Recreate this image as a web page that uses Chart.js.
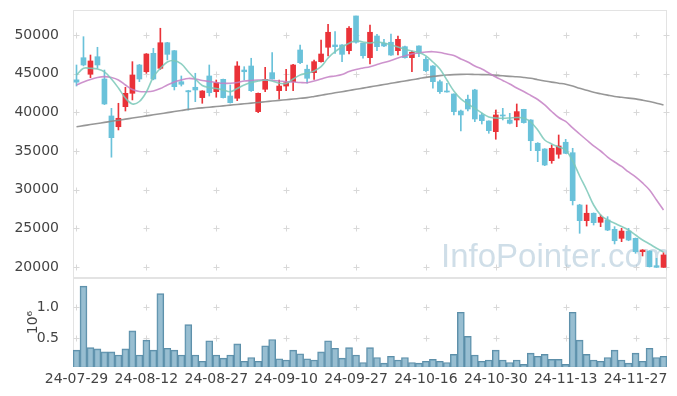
<!DOCTYPE html>
<html>
<head>
<meta charset="utf-8">
<script src="https://cdn.jsdelivr.net/npm/chart.js@4.4.1/dist/chart.umd.min.js"></script>
<style>
    body { margin: 0; background: #fff; }
    #wrap { position: relative; width: 677px; height: 396px; }
    #priceChart { position: absolute; left: 0; top: 0; }
    #volumeChart { position: absolute; left: 0; top: 278px; }
</style>
</head>
<body>
<div id="wrap">
    <canvas id="priceChart" width="677" height="279"></canvas>
    <canvas id="volumeChart" width="677" height="118"></canvas>
</div>
<script>
// 거래일 (24-07-29 ~ 24-12-03)
const dates = [
    '24-07-29','24-07-30','24-07-31','24-08-01','24-08-02','24-08-05','24-08-06','24-08-07','24-08-08','24-08-09',
    '24-08-12','24-08-13','24-08-14','24-08-16','24-08-19','24-08-20','24-08-21','24-08-22','24-08-23','24-08-26',
    '24-08-27','24-08-28','24-08-29','24-08-30','24-09-02','24-09-03','24-09-04','24-09-05','24-09-06','24-09-09',
    '24-09-10','24-09-11','24-09-12','24-09-13','24-09-19','24-09-20','24-09-23','24-09-24','24-09-25','24-09-26',
    '24-09-27','24-09-30','24-10-02','24-10-04','24-10-07','24-10-08','24-10-10','24-10-11','24-10-14','24-10-15',
    '24-10-16','24-10-17','24-10-18','24-10-21','24-10-22','24-10-23','24-10-24','24-10-25','24-10-28','24-10-29',
    '24-10-30','24-10-31','24-11-01','24-11-04','24-11-05','24-11-06','24-11-07','24-11-08','24-11-11','24-11-12',
    '24-11-13','24-11-14','24-11-15','24-11-18','24-11-19','24-11-20','24-11-21','24-11-22','24-11-25','24-11-26',
    '24-11-27','24-11-28','24-11-29','24-12-02','24-12-03'
];

const opens = [
    44200,47060,44920,47190,44310,39530,38140,40730,42460,46120,
    45250,47630,45690,49000,47970,43960,42800,43240,41900,44700,
    42670,44270,42110,41820,45470,45990,40090,42980,45130,42800,
    43400,43960,48060,45570,45130,46550,48410,48710,48710,47970,
    52460,48930,47070,49870,48930,49060,47970,48490,47070,48580,
    46860,45990,43960,42760,42370,40170,41690,42890,39660,38880,
    37500,39660,39010,39010,40390,39010,36000,35260,33750,34580,
    36130,34780,28020,25990,26950,25780,26080,24870,23710,24650,
    23710,21980,22070,20170,19960
];
const highs = [
    46120,49780,47410,48410,45470,40520,41170,43240,46550,46200,
    47600,48280,50870,49050,48000,44700,42850,45050,42800,46120,
    44180,44300,43540,46550,45900,46990,42500,45820,47710,44180,
    45570,46200,48710,46120,46770,49350,51380,50430,48750,51080,
    52460,48950,51290,50090,49440,50130,49870,48550,47930,48600,
    47190,46050,44180,43760,42400,40300,42240,42980,39870,38900,
    40300,40520,39870,41080,40400,39050,36080,35300,35780,37070,
    36510,35350,28110,28020,27000,26730,26510,25220,25000,25000,
    23750,22250,22100,21130,21850
];
const lows = [
    43400,46000,44480,45690,41000,34200,37720,40170,41600,43960,
    45050,44200,45560,46770,42890,43400,40300,41380,41170,42110,
    41950,41850,41200,41510,44180,42700,39960,42670,44300,41690,
    42800,42800,46300,43760,44270,46500,47290,47630,46550,47540,
    48930,46990,46250,47970,48490,47350,47410,46990,45250,47190,
    45250,43110,42460,42600,39660,37590,40170,38790,38490,37290,
    36520,39010,38500,38140,38600,35040,33620,33100,33410,34060,
    34650,28020,24360,25300,25430,25220,24700,22980,23280,23400,
    21770,21430,20000,19950,19950
];
const closes = [
    43900,46120,46640,46120,41080,36720,39230,42460,44830,44310,
    47540,44310,49000,47500,43320,43630,42650,42890,42760,42540,
    43830,41900,41250,45990,45250,42800,42460,44270,44310,43400,
    43830,46120,46420,44400,46550,47540,50350,48490,47500,50870,
    49060,47320,50350,48490,48580,47410,49440,47070,47760,47760,
    45380,43960,42670,42630,40090,39660,40430,39140,38920,37630,
    39660,39530,38580,40090,38670,36330,35040,33190,35350,35650,
    34700,28580,25990,26950,25730,26430,24780,23400,24650,23490,
    21980,22200,20040,19960,21560
];

// 거래량 (백만 주)
const volumes = [
    0.31,1.34,0.35,0.33,0.28,0.28,0.23,0.33,0.62,0.23,
    0.47,0.31,1.22,0.34,0.31,0.23,0.72,0.23,0.13,0.46,
    0.23,0.18,0.23,0.41,0.13,0.19,0.13,0.38,0.48,0.17,
    0.15,0.31,0.25,0.17,0.15,0.28,0.46,0.34,0.18,0.35,
    0.23,0.11,0.35,0.19,0.10,0.21,0.15,0.19,0.11,0.10,
    0.13,0.16,0.13,0.11,0.24,0.92,0.53,0.23,0.13,0.15,
    0.31,0.15,0.11,0.15,0.08,0.26,0.21,0.24,0.16,0.16,
    0.08,0.92,0.47,0.24,0.15,0.13,0.19,0.31,0.15,0.10,
    0.26,0.13,0.34,0.19,0.21
];

// 이동평균선
const ma5 = [
    44830,45690,45690,45600,45220,44310,43150,41850,41080,41400,
    42630,44570,45690,46510,46680,46250,45250,44310,43470,43210,
    43080,42890,42670,43080,43530,43860,44050,44180,44050,43750,
    43730,44310,44830,45050,45350,45900,47030,47840,48450,48930,
    49260,49090,48960,49090,48960,48710,48450,48150,47930,47740,
    47290,46510,45600,44180,42760,41730,41080,40520,39910,39400,
    39270,39230,39270,39330,39270,38750,37720,36420,35910,35520,
    35130,33710,31770,29960,28020,26730,26080,25650,25240,24780,
    24140,23490,22980,22420,21940
];
const ma20 = [
    43535,43920,44250,44500,44610,44500,44180,43535,42950,42700,
    42670,42760,43080,43535,43920,44180,44380,44310,44120,43990,
    43860,43755,43755,43860,44050,44120,44180,44180,44120,44050,
    43960,43920,43860,43830,44050,44310,44570,44700,44890,45280,
    45540,45730,45900,46190,46440,46700,47030,47290,47540,47670,
    47800,47840,47740,47540,47350,46900,46510,45990,45600,45090,
    44570,44120,43660,43150,42690,42180,41660,40950,40110,39330,
    38820,37980,37200,36420,35650,35000,34220,33580,33000,32290,
    31640,30870,29960,28670,27370
];
const ma60 = [
    38140,38280,38420,38560,38700,38840,38980,39120,39260,39400,
    39540,39680,39820,39960,40100,40240,40380,40490,40580,40660,
    40750,40840,40930,41020,41100,41190,41280,41370,41460,41540,
    41630,41720,41810,41900,42050,42210,42360,42520,42670,42820,
    42980,43130,43290,43440,43590,43750,43900,44060,44210,44360,
    44520,44650,44750,44830,44880,44910,44920,44900,44880,44850,
    44780,44720,44650,44590,44510,44400,44220,44050,43900,43770,
    43640,43400,43100,42850,42590,42400,42220,42050,41940,41840,
    41740,41580,41400,41180,40950
];

// 축 눈금
const priceTicks = [20000, 25000, 30000, 35000, 40000, 45000, 50000];
const volumeTicks = [0.5, 1.0];
const dateTickStep = 10;

const UP_COLOR = 'rgb(234,50,56)';
const DOWN_COLOR = 'rgb(106,194,218)';
const TICK_FONT = { family: 'DejaVu Sans', size: 14 };
const TICK_COLOR = '#444';
const AXIS_WIDTH = 73;

const candleColors = closes.map((c, i) => (c >= opens[i] ? UP_COLOR : DOWN_COLOR));

// 축 크기 고정 (라벨 때문에 플롯 영역이 줄어들지 않게)
const fixWidth = s => {
    s.width = AXIS_WIDTH;
    s.paddingTop = 0;
    s.paddingBottom = 0;
};
const fixHeight = s => {
    s.height = 29;
    s.paddingLeft = 0;
    s.paddingRight = 0;
};

// 플롯 테두리 + 격자 교차점(+) 표시
const frameGrid = {
    id: 'frameGrid',
    beforeDatasetsDraw(chart, args, opts) {
        const { ctx, chartArea: a, scales } = chart;
        ctx.save();
        ctx.strokeStyle = '#e3e3e3';
        ctx.lineWidth = 1;
        ctx.strokeRect(a.left + 0.5, a.top + 0.5, a.right - a.left - 1, a.bottom - a.top - 1);

        const xs = [];
        for (let i = 0; i < dates.length; i += dateTickStep) xs.push(Math.round(scales.x.getPixelForValue(i)) + 0.5);
        xs.push(a.right - 0.5);
        const ys = opts.ticks.map(v => Math.round(scales.y.getPixelForValue(v)) + 0.5);
        ctx.strokeStyle = '#d8d8d8';
        ctx.beginPath();
        xs.forEach(x => ys.forEach(y => {
            ctx.moveTo(x - 3, y); ctx.lineTo(x + 3, y);
            ctx.moveTo(x, y - 3); ctx.lineTo(x, y + 3);
        }));
        ctx.stroke();

        if (opts.watermark) {
            ctx.beginPath();
            ctx.rect(a.left, a.top, a.right - a.left, a.bottom - a.top);
            ctx.clip();
            ctx.font = '33px "Liberation Sans"';
            ctx.fillStyle = 'rgba(160,190,210,0.5)';
            ctx.textBaseline = 'alphabetic';
            ctx.fillText(opts.watermark, 441, 267);
        }
        ctx.restore();
    }
};

// 거래량 축 단위 (10^6)
const unitLabel = {
    id: 'unitLabel',
    afterDraw(chart) {
        const { ctx, chartArea: a } = chart;
        ctx.save();
        ctx.translate(33, (a.top + a.bottom) / 2);
        ctx.rotate(-Math.PI / 2);
        ctx.font = '14px "DejaVu Sans"';
        ctx.fillStyle = TICK_COLOR;
        ctx.textAlign = 'center';
        ctx.textBaseline = 'middle';
        ctx.fillText('10⁶', 0, 0);
        ctx.restore();
    }
};

const maLine = (label, data, color) => ({
    type: 'line',
    label: label,
    data: data,
    borderColor: color,
    borderWidth: 1.6,
    pointRadius: 0,
    tension: 0.35,
    order: 0
});

new Chart(document.getElementById('priceChart'), {
    type: 'bar',
    data: {
        labels: dates,
        datasets: [
            maLine('MA5', ma5, 'rgba(122,200,184,0.85)'),
            maLine('MA20', ma20, 'rgba(196,128,196,0.85)'),
            maLine('MA60', ma60, 'rgba(140,140,140,0.9)'),
            {
                label: 'body',
                data: opens.map((o, i) => [o, closes[i]]),
                backgroundColor: candleColors,
                barThickness: 5,
                minBarLength: 1,
                grouped: false,
                order: 1
            },
            {
                label: 'wick',
                data: lows.map((l, i) => [l, highs[i]]),
                backgroundColor: candleColors,
                barThickness: 1,
                grouped: false,
                order: 2
            }
        ]
    },
    options: {
        responsive: false,
        animation: false,
        layout: { padding: { top: 10, right: 10, bottom: 1, left: 0 } },
        plugins: {
            legend: { display: false },
            tooltip: { enabled: false },
            frameGrid: { ticks: priceTicks, watermark: 'InfoPointer.com' }
        },
        scales: {
            x: { display: false, offset: true },
            y: {
                min: 18580,
                max: 53230,
                afterBuildTicks: s => { s.ticks = priceTicks.map(v => ({ value: v })); },
                afterFit: fixWidth,
                grid: { display: false },
                border: { display: false },
                ticks: { font: TICK_FONT, color: TICK_COLOR, padding: 6, callback: v => String(v) }
            }
        }
    },
    plugins: [frameGrid]
});

new Chart(document.getElementById('volumeChart'), {
    type: 'bar',
    data: {
        labels: dates,
        datasets: [{
            label: 'volume',
            data: volumes,
            backgroundColor: 'rgba(118,168,194,0.75)',
            borderColor: 'rgb(92,142,168)',
            borderWidth: 1,
            barPercentage: 1,
            categoryPercentage: 1
        }]
    },
    options: {
        responsive: false,
        animation: false,
        layout: { padding: { top: 0, right: 10, bottom: 0, left: 0 } },
        plugins: {
            legend: { display: false },
            tooltip: { enabled: false },
            frameGrid: { ticks: volumeTicks }
        },
        scales: {
            x: {
                offset: true,
                afterBuildTicks: s => { s.ticks = s.ticks.filter(t => t.value % dateTickStep === 0); },
                afterFit: fixHeight,
                grid: { display: false, drawTicks: false },
                border: { display: false },
                ticks: { font: TICK_FONT, color: TICK_COLOR, padding: 4, autoSkip: false, maxRotation: 0 }
            },
            y: {
                min: 0.037,
                max: 1.472,
                afterBuildTicks: s => { s.ticks = volumeTicks.map(v => ({ value: v })); },
                afterFit: fixWidth,
                grid: { display: false },
                border: { display: false },
                ticks: { font: TICK_FONT, color: TICK_COLOR, padding: 6, callback: v => v.toFixed(1) }
            }
        }
    },
    plugins: [frameGrid, unitLabel]
});
</script>
</body>
</html>
